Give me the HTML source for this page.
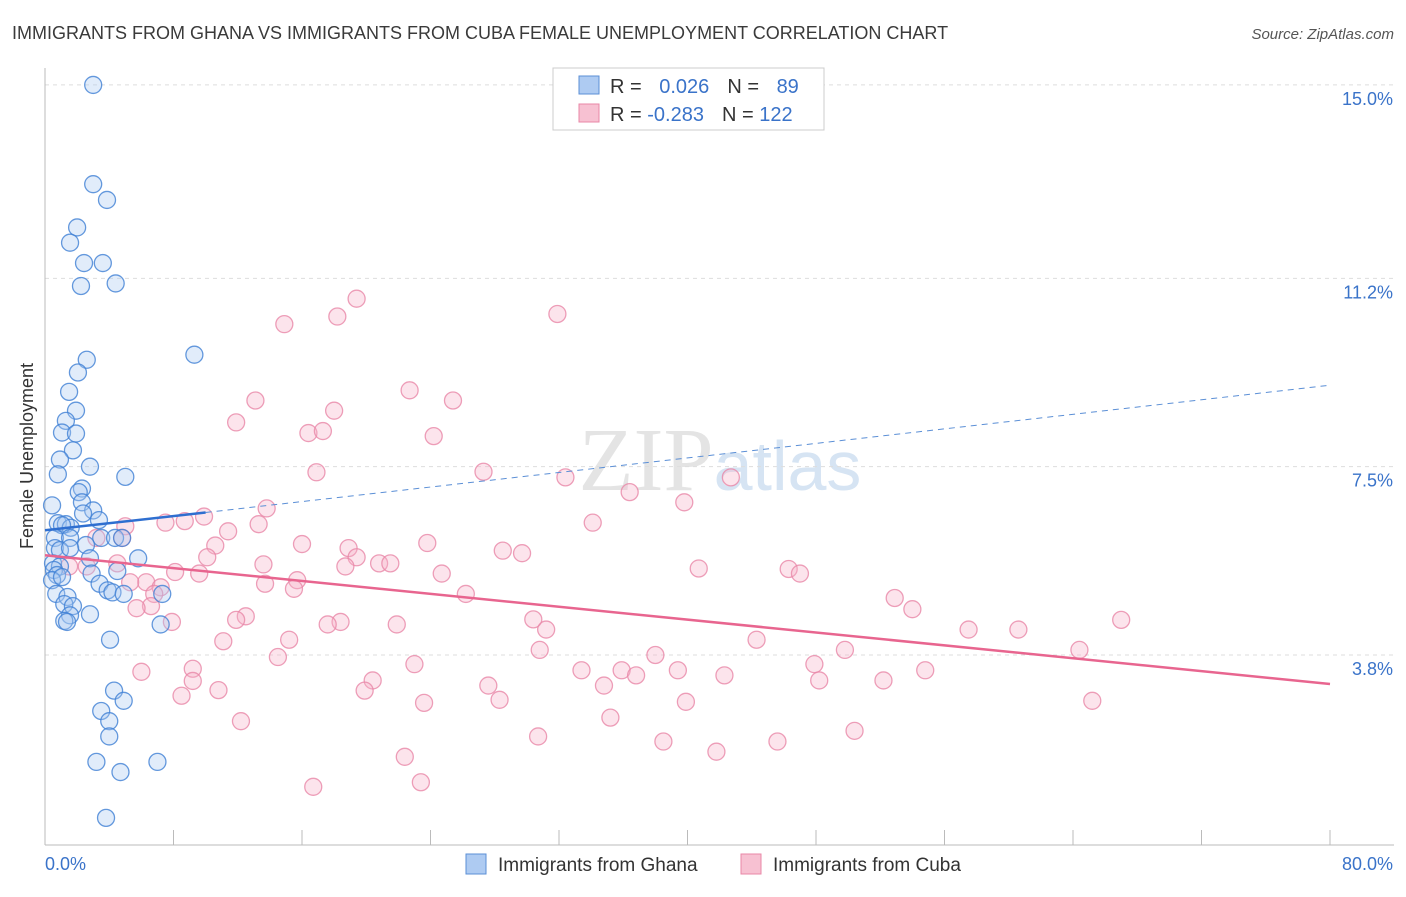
<!DOCTYPE html>
<html><head><meta charset="utf-8"><style>
body{margin:0;background:#fff;font-family:"Liberation Sans",sans-serif;}
</style></head><body>
<svg id="chart" width="1406" height="892" xmlns="http://www.w3.org/2000/svg" font-family="Liberation Sans, sans-serif">
<text x="12" y="39" font-size="18" fill="#3a3a3a">IMMIGRANTS FROM GHANA VS IMMIGRANTS FROM CUBA FEMALE UNEMPLOYMENT CORRELATION CHART</text>
<text x="1394" y="39" font-size="15" fill="#555" font-style="italic" text-anchor="end">Source: ZipAtlas.com</text>
<text x="720" y="490" font-size="90" fill="#e4e4e4" text-anchor="middle" font-family="Liberation Serif, serif">ZIP<tspan fill="#d6e4f3" font-family="Liberation Sans, sans-serif" font-size="70">atlas</tspan></text>
<text transform="translate(33,456) rotate(-90)" font-size="18" fill="#333" text-anchor="middle">Female Unemployment</text>
<g id="grid"></g><g id="axes"></g><g id="pts"></g><g id="trends"></g>
<g>
<rect x="553" y="68" width="271" height="62" fill="#fff" stroke="#ccc"/>
<rect x="579" y="76" width="20" height="18" fill="#aecbf2" stroke="#5b8fd6"/>
<rect x="579" y="104" width="20" height="18" fill="#f7c1d2" stroke="#e887a7"/>
<text x="610" y="93" font-size="20" fill="#333">R = <tspan fill="#3a73c9" dx="12">0.026</tspan><tspan dx="18" fill="#333">N = </tspan><tspan fill="#3a73c9" dx="12">89</tspan></text>
<text x="610" y="121" font-size="20" fill="#333">R = <tspan fill="#3a73c9">-0.283</tspan><tspan dx="18" fill="#333">N = </tspan><tspan fill="#3a73c9">122</tspan></text>
</g>
<g>
<rect x="466" y="854" width="20" height="20" fill="#aecbf2" stroke="#5b8fd6"/>
<text x="498" y="871" font-size="19" fill="#333">Immigrants from Ghana</text>
<rect x="741" y="854" width="20" height="20" fill="#f7c1d2" stroke="#e887a7"/>
<text x="773" y="871" font-size="19" fill="#333">Immigrants from Cuba</text>
</g>
</svg>
<script>
const yTicks=[15.0,11.2,7.5,3.8];
const yTickLabels=["15.0%","11.2%","7.5%","3.8%"];
const xTicks=[0,8,16,24,32,40,48,56,64,72,80];
const xTickLabels=["0.0%","80.0%"];
const ghanaX=[3.0,3.0,3.86,2.0,1.56,2.43,3.6,2.24,4.4,9.3,2.6,2.05,1.5,1.93,1.3,1.06,1.93,1.74,0.93,2.8,0.8,5.0,2.3,2.1,0.44,2.3,3.0,2.37,3.36,0.8,1.3,1.6,1.06,0.62,1.56,3.5,4.36,4.8,0.62,2.55,0.93,1.56,2.8,5.8,0.5,0.93,0.56,0.75,0.44,1.06,2.9,4.5,3.4,3.9,4.2,4.9,7.3,0.7,1.4,1.2,1.74,1.56,2.8,1.2,1.37,7.2,4.05,4.3,4.9,3.5,4.0,4.0,3.2,4.7,7.0,3.8];
const ghanaY=[15.0,13.05,12.74,12.2,11.9,11.5,11.5,11.05,11.1,9.7,9.6,9.35,8.97,8.6,8.4,8.17,8.15,7.82,7.64,7.5,7.35,7.3,7.07,7.0,6.74,6.8,6.64,6.58,6.45,6.39,6.37,6.3,6.35,6.1,6.1,6.1,6.1,6.1,5.9,5.96,5.86,5.9,5.7,5.7,5.6,5.54,5.47,5.37,5.27,5.33,5.4,5.45,5.2,5.07,5.03,5.0,5.0,5.0,4.94,4.8,4.76,4.58,4.6,4.47,4.45,4.4,4.1,3.1,2.9,2.7,2.5,2.2,1.7,1.5,1.7,0.6];
const cubaX=[19.4,18.2,31.9,14.9,22.7,25.4,13.1,18.0,11.9,16.4,17.3,24.2,16.9,27.3,32.4,42.7,36.4,39.8,13.8,9.9,8.7,7.5,34.1,13.3,11.4,5.0,3.2,4.8,16.0,23.8,10.6,18.9,28.5,29.7,10.1,19.4,13.6,20.8,21.5,18.7,4.5,2.6,1.5,8.1,9.6,24.7,40.7,46.3,47.0,6.3,5.3,13.7,15.7,15.5,7.2,6.8,26.2,52.9,6.6,5.7,54.0,12.5,11.9,7.9,18.4,17.6,21.9,30.4,31.2,67.0,57.5,60.6,11.1,15.2,44.3,30.8,38.0,49.8,64.4,14.5,23.0,47.9,6.0,9.2,33.4,35.9,36.8,39.4,42.3,54.8,20.4,48.2,52.2,9.2,27.6,34.8,8.5,10.8,19.9,28.3,39.9,23.6,65.2,12.2,35.2,50.4,30.7,38.5,41.8,45.6,22.4,16.7,23.4];
const cubaY=[10.8,10.45,10.5,10.3,9.0,8.8,8.8,8.6,8.37,8.16,8.2,8.1,7.39,7.4,7.29,7.29,7.0,6.8,6.68,6.52,6.43,6.4,6.4,6.37,6.23,6.33,6.1,6.1,5.98,6.0,5.95,5.9,5.85,5.8,5.72,5.72,5.58,5.6,5.6,5.54,5.6,5.54,5.54,5.43,5.4,5.4,5.5,5.49,5.4,5.23,5.23,5.2,5.27,5.1,5.13,5.0,5.0,4.92,4.76,4.72,4.7,4.56,4.49,4.45,4.45,4.4,4.4,4.5,4.3,4.49,4.3,4.3,4.07,4.1,4.1,3.9,3.8,3.9,3.9,3.76,3.62,3.62,3.47,3.53,3.5,3.5,3.4,3.5,3.4,3.5,3.3,3.3,3.3,3.29,3.2,3.2,3.0,3.11,3.1,2.92,2.88,2.86,2.9,2.5,2.57,2.31,2.2,2.1,1.9,2.1,1.8,1.21,1.3];
const ghanaTrend=[[0,6.25],[10,6.6]];
const ghanaTrendDash=[[10,6.6],[80,9.1]];
const cubaTrend=[[0,5.76],[80,3.23]];
const xs=v=>45+v*(1285/80);
const ys=v=>655-(v-3.8)*50.9;
const NS="http://www.w3.org/2000/svg";
function mk(tag,attrs,parent){const e=document.createElementNS(NS,tag);for(const k in attrs)e.setAttribute(k,attrs[k]);parent.appendChild(e);return e;}
const grid=document.getElementById('grid'),axes=document.getElementById('axes'),pts=document.getElementById('pts'),tr=document.getElementById('trends');
yTicks.forEach((t,i)=>{
 const l=mk('line',{x1:45,x2:1394,y1:ys(t),y2:ys(t),stroke:'#ddd','stroke-dasharray':'4,4'},grid);
 
 
 const tx=mk('text',{x:1393,y:ys(t)+20,'font-size':18,fill:'#3a73c9','text-anchor':'end'},axes);
 tx.textContent=yTickLabels[i];
 
 
});
const ax=mk('line',{x1:45,x2:1394,y1:845,y2:845,stroke:'#bbb'},axes);


const ay=mk('line',{x1:45,x2:45,y1:68,y2:845,stroke:'#bbb'},axes);


xTicks.forEach(t=>{
 const l=mk('line',{x1:xs(t),x2:xs(t),y1:830,y2:845,stroke:'#bbb'},axes);
 
 
});
const xl0=mk('text',{x:45,y:870,'font-size':18,fill:'#3a73c9'},axes);xl0.textContent=xTickLabels[0];


const xl1=mk('text',{x:1393,y:870,'font-size':18,fill:'#3a73c9','text-anchor':'end'},axes);xl1.textContent=xTickLabels[1];


function dots(X,Y,fill,stroke,name){X.forEach((x,i)=>{
 const c=mk('circle',{cx:xs(x),cy:ys(Y[i]),r:8.5,fill:fill,'fill-opacity':0.35,stroke:stroke,'stroke-width':1.3,'stroke-opacity':0.8},pts);
 
 
});}
dots(cubaX,cubaY,'#f6b3c8','#e887a7','cuba-point');
dots(ghanaX,ghanaY,'#a9c8f0','#3f7fd4','ghana-point');
function line(p,st,w,dash,name){const l=mk('line',{x1:xs(p[0][0]),y1:ys(p[0][1]),x2:xs(p[1][0]),y2:ys(p[1][1]),stroke:st,'stroke-width':w},tr);
 if(dash)l.setAttribute('stroke-dasharray',dash);
 
 }
line(ghanaTrend,'#2f6fd0',2.5,null,'ghana-trend-line');
line(ghanaTrendDash,'#5b8fd6',1,'6,5','ghana-trend-extension');
line(cubaTrend,'#e8658f',2.5,null,'cuba-trend-line');
</script>
</body></html>
